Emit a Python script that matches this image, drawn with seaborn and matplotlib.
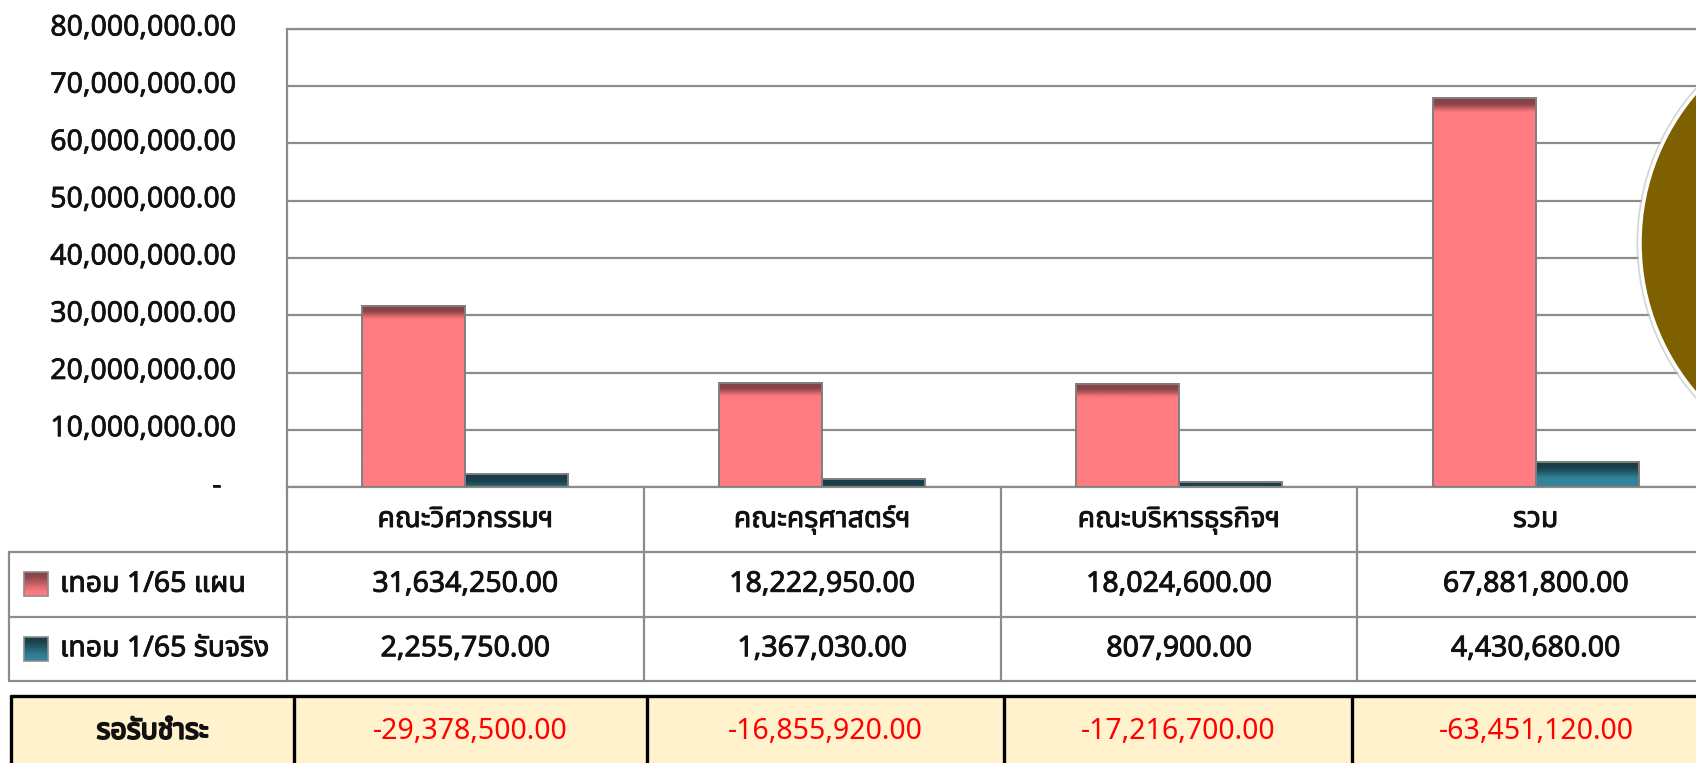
import numpy as np
import pandas as pd
import matplotlib
matplotlib.use('Agg')
import matplotlib.pyplot as plt
import matplotlib.patheffects as pe
import matplotlib.transforms as mtransforms
import seaborn as sns
from matplotlib.colors import to_rgb
from matplotlib.patches import Rectangle, Circle

# data
faculties = ['คณะวิศวกรรมฯ', 'คณะครุศาสตร์ฯ', 'คณะบริหารธุรกิจฯ', 'รวม']
series = ['เทอม 1/65 แผน', 'เทอม 1/65 รับจริง']
plan = [31634250.00, 18222950.00, 18024600.00, 67881800.00]
received = [2255750.00, 1367030.00, 807900.00, 4430680.00]
outstanding_label = 'รอรับชำระ'
outstanding = [-29378500.00, -16855920.00, -17216700.00, -63451120.00]
y_ticks = [0, 10000000, 20000000, 30000000, 40000000, 50000000, 60000000, 70000000, 80000000]

# styles
RED, RED_DARK = '#FF7C80', '#874346'
TEAL, TEAL_DARK = '#31849B', '#1B3D48'
GRID = '#8C8C8C'
INK = '#111111'

# layout in pixels (figure is 1696 x 763)
W, H = 1696, 763
AX_L, AX_R, AX_T, AX_B = 287, 1714, 29, 487
ROWS = [487, 552, 616.5, 681]
LEG_L = 9
BOT_T = 695.5
BOT_SEP = [11, 294, 647, 1004, 1352, 1720]


def heavy(width, color=INK):
    # thicken the regular-weight glyphs a bit, the original uses a heavier face
    return [pe.withStroke(linewidth=width, foreground=color)]


def band_gradient(dark, base, n_px, solid_px, fade_px):
    n = max(int(round(n_px)), 2)
    t = np.clip((np.arange(n) - solid_px) / fade_px, 0, 1)
    t = t * t * (3 - 2 * t)
    cols = np.outer(1 - t, to_rgb(dark)) + np.outer(t, to_rgb(base))
    return cols.reshape(n, 1, 3)


def main():
    sns.set_style('white')
    plt.rcParams['font.family'] = ['Noto Sans Thai', 'DejaVu Sans']

    df = pd.DataFrame({
        'faculty': faculties * 2,
        'series': [series[0]] * len(faculties) + [series[1]] * len(faculties),
        'amount': plan + received,
    })

    fig = plt.figure(figsize=(W / 100, H / 100), dpi=100)
    ax = fig.add_axes([AX_L / W, 1 - AX_B / H, (AX_R - AX_L) / W, (AX_B - AX_T) / H])

    sns.barplot(data=df, x='faculty', y='amount', hue='series', order=faculties,
                hue_order=series, palette=[RED, TEAL], width=0.577, gap=0,
                edgecolor='#7F7F7F', linewidth=1.4, saturation=1, legend=False, ax=ax)

    # shaded tops like the original bevelled bars
    px_per_unit = (AX_B - AX_T) / y_ticks[-1]
    shading = [(RED_DARK, RED, 4, 11), (TEAL_DARK, TEAL, 4, 14)]
    for container, (dark, base, solid, fade) in zip(ax.containers, shading):
        for bar in container:
            x0, w, h = bar.get_x(), bar.get_width(), bar.get_height()
            img = band_gradient(dark, base, h * px_per_unit, solid, fade)
            ax.imshow(img, extent=(x0, x0 + w, 0, h), aspect='auto', zorder=2,
                      interpolation='bilinear')
            bar.set_facecolor('none')
            bar.set_zorder(3)

    ax.set_xlim(-0.5, 3.5)
    ax.set_ylim(0, y_ticks[-1])
    ax.set_xticks([])
    ax.set_yticks(y_ticks)
    ax.set_yticklabels(['-  ' if v == 0 else f'{v:,.2f}' for v in y_ticks],
                       fontsize=20.5, color=INK)
    ax.tick_params(axis='y', length=0, pad=37)
    lift = mtransforms.ScaledTranslation(0, 4.5 / 100, fig.dpi_scale_trans)
    for lab in ax.get_yticklabels():
        lab.set_transform(lab.get_transform() + lift)
        lab.set_path_effects(heavy(0.5))
    ax.set_xlabel('')
    ax.set_ylabel('')
    ax.set_axisbelow(True)
    ax.yaxis.grid(True, color=GRID, linewidth=1.6)
    ax.xaxis.grid(False)
    for side in ['left', 'top', 'bottom']:
        ax.spines[side].set_color(GRID)
        ax.spines[side].set_linewidth(1.6)
    ax.spines['right'].set_visible(False)

    # data table under the chart, drawn in pixel coordinates
    ov = fig.add_axes([0, 0, 1, 1])
    ov.set_xlim(0, W)
    ov.set_ylim(H, 0)
    ov.axis('off')
    ov.set_zorder(5)

    col_w = (AX_R - AX_L) / len(faculties)
    bounds = [AX_L + i * col_w for i in range(len(faculties) + 1)]
    centers = [(a + b) / 2 for a, b in zip(bounds[:-1], bounds[1:])]

    for x in bounds[:-1]:
        ov.plot([x, x], [ROWS[0], ROWS[-1]], color=GRID, lw=1.6)
    ov.plot([LEG_L, LEG_L], [ROWS[1], ROWS[-1]], color=GRID, lw=1.6)
    for y in ROWS[1:]:
        ov.plot([LEG_L, W], [y, y], color=GRID, lw=1.6)

    head_y = (ROWS[0] + ROWS[1]) / 2
    for cx, name in zip(centers, faculties):
        ov.text(cx, head_y, name, ha='center', va='center', fontsize=20.5,
                color=INK, path_effects=heavy(0.65))

    for r, (label, values, dark, base) in enumerate(
            [(series[0], plan, RED_DARK, RED), (series[1], received, TEAL_DARK, TEAL)]):
        cy = (ROWS[r + 1] + ROWS[r + 2]) / 2
        ov.imshow(band_gradient(dark, base, 24, 0, 22), extent=(24, 48, cy + 12, cy - 12),
                  aspect='auto', interpolation='bilinear', zorder=2)
        ov.add_patch(Rectangle((24, cy - 12), 24, 24, facecolor='none',
                               edgecolor='#8C8C8C', lw=1.2, zorder=3))
        ov.text(60, cy, label, ha='left', va='center', fontsize=20.5,
                color=INK, path_effects=heavy(0.65))
        for cx, v in zip(centers, values):
            ov.text(cx, cy, f'{v:,.2f}', ha='center', va='center', fontsize=20.5,
                    color=INK, path_effects=heavy(0.65))

    # outstanding-payment strip
    ov.add_patch(Rectangle((BOT_SEP[0], BOT_T), W, H - BOT_T, facecolor='#FFF2CC',
                           edgecolor='none', zorder=1))
    ov.plot([BOT_SEP[0], W], [BOT_T, BOT_T], color='black', lw=2.4, zorder=2)
    for x in BOT_SEP[:-1]:
        ov.plot([x, x], [BOT_T, H], color='black', lw=2.4, zorder=2)
    bot_y = (BOT_T + H) / 2 + 2
    ov.text((BOT_SEP[0] + BOT_SEP[1]) / 2, bot_y, outstanding_label, ha='center',
            va='center', fontsize=20.5, weight='bold', color=INK,
            path_effects=heavy(1.4))
    for a, b, v in zip(BOT_SEP[1:-1], BOT_SEP[2:], outstanding):
        ov.text((a + b) / 2, bot_y, f'{v:,.2f}', ha='center', va='center',
                fontsize=20.5, color='#FF0000')

    # decorative brown disc on the right
    ov.add_patch(Circle((1871, 243), 234.5, facecolor='#B4B4B4', edgecolor='none',
                        alpha=0.55, zorder=6))
    ov.add_patch(Circle((1871, 243), 231, facecolor='#7F6000', edgecolor='white',
                        lw=2.5, zorder=7))
    ov.set_xlim(0, W)
    ov.set_ylim(H, 0)

    fig.savefig('out.png', dpi=100)


if __name__ == '__main__':
    main()
